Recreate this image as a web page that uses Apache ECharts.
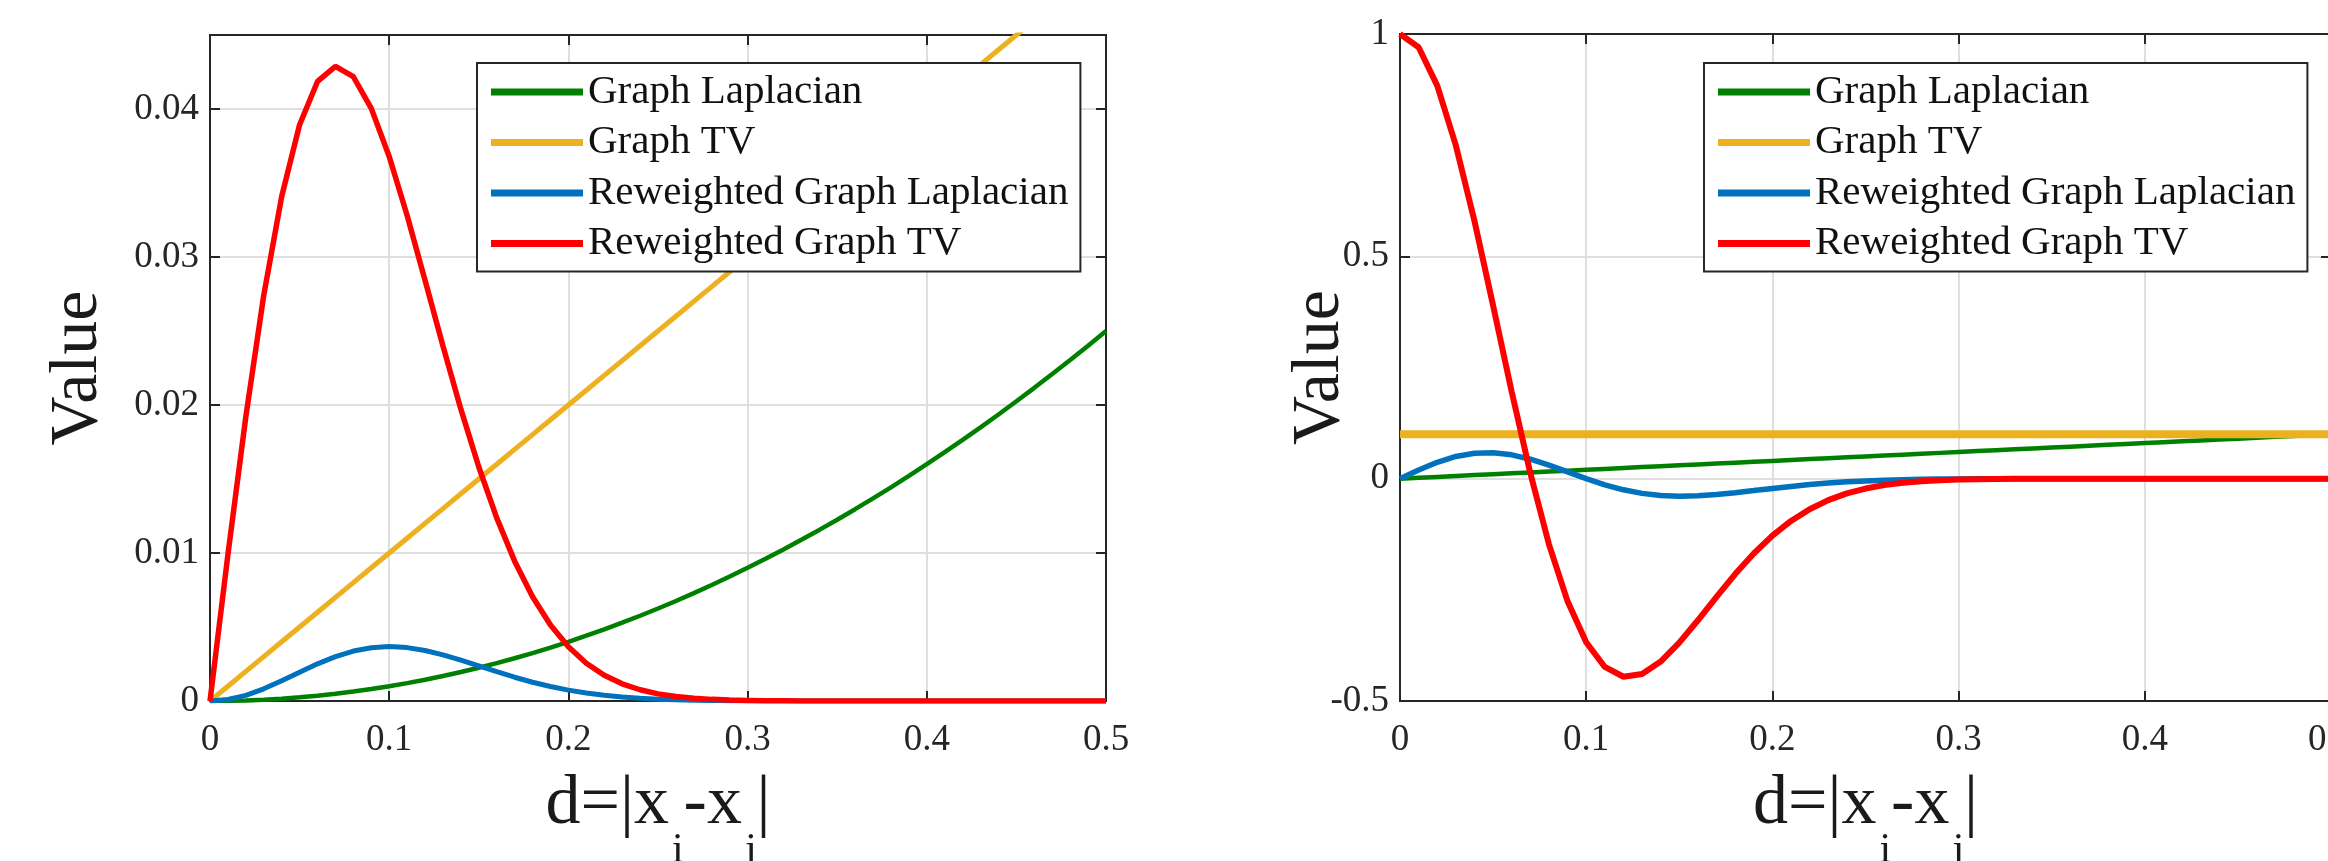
<!DOCTYPE html>
<html><head><meta charset="utf-8">
<script src="https://cdn.jsdelivr.net/npm/echarts@6/dist/echarts.min.js"></script>
<style>html,body{margin:0;padding:0;background:#fff}#c{width:2328px;height:861px}</style>
</head><body><div id="c"></div>
<script>
// distance d = |x_i - x_j|
const d = [0,0.01,0.02,0.03,0.04,0.05,0.06,0.07,0.08,0.09,0.1,0.11,0.12,0.13,0.14,0.15,0.16,0.17,0.18,0.19,0.2,0.21,0.22,0.23,0.24,0.25,0.26,0.27,0.28,0.29,0.3,0.31,0.32,0.33,0.34,0.35,0.36,0.37,0.38,0.39,0.4,0.41,0.42,0.43,0.44,0.45,0.46,0.47,0.48,0.49,0.5];

// left panel
const leftLap = [0,0.00001,0.00004,0.00009,0.00016,0.00025,0.00036,0.00049,0.00064,0.00081,0.001,0.00121,0.00144,0.00169,0.00196,0.00225,0.00256,0.00289,0.00324,0.00361,0.004,0.00441,0.00484,0.00529,0.00576,0.00625,0.00676,0.00729,0.00784,0.00841,0.009,0.00961,0.01024,0.01089,0.01156,0.01225,0.01296,0.01369,0.01444,0.01521,0.016,0.01681,0.01764,0.01849,0.01936,0.02025,0.02116,0.02209,0.02304,0.02401,0.025];
const leftTV = [0,0.001,0.002,0.003,0.004,0.005,0.006,0.007,0.008,0.009,0.01,0.011,0.012,0.013,0.014,0.015,0.016,0.017,0.018,0.019,0.02,0.021,0.022,0.023,0.024,0.025,0.026,0.027,0.028,0.029,0.03,0.031,0.032,0.033,0.034,0.035,0.036,0.037,0.038,0.039,0.04,0.041,0.042,0.043,0.044,0.045,0.046,0.047,0.048,0.049,0.05];
const leftRwLap = [0,0.000099,0.000384,0.000823,0.001363,0.001947,0.002512,0.003002,0.003375,0.003603,0.003679,0.003608,0.003412,0.003118,0.002761,0.002372,0.001979,0.001606,0.001269,0.000977,0.000733,0.000536,0.000383,0.000267,0.000181,0.000121,0.000078,0.00005,0.000031,0.000019,0.000011,0.000006,0.000004,0.000002,0,0,0,0,0,0,0,0,0,0,0,0,0,0,0,0,0];
const leftRwTV = [0,0.0099,0.01922,0.02742,0.03409,0.03894,0.04186,0.04288,0.04218,0.04004,0.03679,0.0328,0.02843,0.02399,0.01972,0.01581,0.01237,0.00945,0.00705,0.00514,0.00366,0.00255,0.00174,0.00116,0.00076,0.00048,0.0003,0.00018,0.00011,0.00006,0.00004,0.00002,0.00001,0,0,0,0,0,0,0,0,0,0,0,0,0,0,0,0,0,0];

// right panel
const rightLap = [0,0.002,0.004,0.006,0.008,0.01,0.012,0.014,0.016,0.018,0.02,0.022,0.024,0.026,0.028,0.03,0.032,0.034,0.036,0.038,0.04,0.042,0.044,0.046,0.048,0.05,0.052,0.054,0.056,0.058,0.06,0.062,0.064,0.066,0.068,0.07,0.072,0.074,0.076,0.078,0.08,0.082,0.084,0.086,0.088,0.09,0.092,0.094,0.096,0.098,0.1];
const rightTV = [0.1,0.1,0.1,0.1,0.1,0.1,0.1,0.1,0.1,0.1,0.1,0.1,0.1,0.1,0.1,0.1,0.1,0.1,0.1,0.1,0.1,0.1,0.1,0.1,0.1,0.1,0.1,0.1,0.1,0.1,0.1,0.1,0.1,0.1,0.1,0.1,0.1,0.1,0.1,0.1,0.1,0.1,0.1,0.1,0.1,0.1,0.1,0.1,0.1,0.1,0.1];
const rightRwLap = [0,0.0196,0.03689,0.0499,0.05726,0.05841,0.05358,0.04374,0.03037,0.01521,0,-0.01378,-0.02502,-0.0331,-0.03786,-0.03953,-0.03859,-0.03572,-0.03158,-0.02683,-0.02198,-0.01742,-0.01337,-0.00995,-0.0072,-0.00507,-0.00347,-0.00231,-0.00149,-0.00095,-0.00059,-0.00036,-0.00021,-0.00012,-0.00007,0,0,0,0,0,0,0,0,0,0,0,0,0,0,0,0];
const rightRwTV = [1,0.97025,0.88393,0.74942,0.57946,0.3894,0.19535,0.01225,-0.14764,-0.27581,-0.36788,-0.42344,-0.44543,-0.43916,-0.41131,-0.3689,-0.31848,-0.26567,-0.2146,-0.16825,-0.12824,-0.09509,-0.06866,-0.04828,-0.03314,-0.0222,-0.01452,-0.00923,-0.00573,-0.00348,-0.00209,-0.00122,-0.0007,-0.00039,-0.00021,-0.00011,-0.00005,0,0,0,0,0,0,0,0,0,0,0,0,0,0];

const seriesNames = ['Graph Laplacian','Graph TV','Reweighted Graph Laplacian','Reweighted Graph TV'];
const colors = ['#008000','#EDB120','#0072BD','#FF0000'];
const yNameText = 'Value';
const xNameText = '{m|d=|x}{s|i}{m|-x}{s|j}{m||}';

const FONT = "'Liberation Serif','Times New Roman',serif";
const INK = '#262626';

function pairs(arr){ return d.map((x,i)=>[x, arr[i]]); }

function xAxisMain(gi){
  return {
    gridIndex: gi, type: 'value', min: 0, max: 0.5, interval: 0.1, position: 'bottom',
    axisLine: {show: true, onZero: false, lineStyle: {color: INK, width: 2}},
    axisTick: {show: true, inside: true, length: 10, lineStyle: {color: INK, width: 2}},
    axisLabel: {show: true, margin: 21, color: INK, fontFamily: FONT, fontSize: 37},
    splitLine: {show: true, lineStyle: {color: '#dfdfdf', width: 2}},
    name: xNameText, nameLocation: 'middle', nameGap: 69, nameMoveOverlap: false,
    nameTextStyle: {
      color: INK, fontFamily: FONT,
      rich: {
        m: {fontSize: 70, lineHeight: 70, fontFamily: FONT, color: '#1a1a1a', verticalAlign: 'top'},
        s: {fontSize: 42, lineHeight: 42, fontFamily: FONT, color: '#1a1a1a', verticalAlign: 'top', padding: [60,0,0,3]}
      }
    }
  };
}
function xAxisTop(gi){
  return {
    gridIndex: gi, type: 'value', min: 0, max: 0.5, interval: 0.1, position: 'top',
    axisLine: {show: true, onZero: false, lineStyle: {color: INK, width: 2}},
    axisTick: {show: true, inside: true, length: 10, lineStyle: {color: INK, width: 2}},
    axisLabel: {show: false}, splitLine: {show: false}
  };
}
function yAxisMain(gi, min, max, interval, gap){
  return {
    gridIndex: gi, type: 'value', min: min, max: max, interval: interval, position: 'left',
    axisLine: {show: true, onZero: false, lineStyle: {color: INK, width: 2}},
    axisTick: {show: true, inside: true, length: 10, lineStyle: {color: INK, width: 2}},
    axisLabel: {show: true, margin: 11, color: INK, fontFamily: FONT, fontSize: 37, showMaxLabel: max !== 1 ? false : true},
    splitLine: {show: true, lineStyle: {color: '#dfdfdf', width: 2}},
    name: yNameText, nameLocation: 'middle', nameGap: gap, nameMoveOverlap: false,
    nameTextStyle: {color: '#1a1a1a', fontFamily: FONT, fontSize: 68}
  };
}
function yAxisRight(gi, min, max, interval){
  return {
    gridIndex: gi, type: 'value', min: min, max: max, interval: interval, position: 'right',
    axisLine: {show: true, onZero: false, lineStyle: {color: INK, width: 2}},
    axisTick: {show: true, inside: true, length: 10, lineStyle: {color: INK, width: 2}},
    axisLabel: {show: false}, splitLine: {show: false}
  };
}

const leftData = [leftLap, leftTV, leftRwLap, leftRwTV];
const rightData = [rightLap, rightTV, rightRwLap, rightRwTV];
const leftWidths = [4.5, 5, 5, 5.5];
const rightWidths = [4.5, 8, 5.5, 6];

const series = [];
leftData.forEach((arr, i) => series.push({
  name: seriesNames[i], type: 'line', xAxisIndex: 0, yAxisIndex: 0,
  data: pairs(arr), symbol: 'none', showSymbol: false, clip: true, z: 2 + i,
  lineStyle: {color: colors[i], width: leftWidths[i]}, itemStyle: {color: colors[i]}
}));
rightData.forEach((arr, i) => series.push({
  name: seriesNames[i], type: 'line', xAxisIndex: 2, yAxisIndex: 2,
  data: pairs(arr), symbol: 'none', showSymbol: false, clip: true, z: 2 + i,
  lineStyle: {color: colors[i], width: rightWidths[i]}, itemStyle: {color: colors[i]}
}));

function legend(left){
  return {
    show: true, orient: 'vertical', left: left, top: 63,
    data: seriesNames.map((n, i) => ({name: n, icon: 'rect', itemStyle: {color: colors[i], borderWidth: 0}})),
    itemWidth: 92, itemHeight: 7, itemGap: 0.5,
    padding: [4, 12, 3, 14],
    backgroundColor: '#ffffff', borderColor: INK, borderWidth: 2, borderRadius: 0,
    textStyle: {color: '#111', fontFamily: FONT, fontSize: 41, lineHeight: 50},
    selectedMode: false
  };
}

const option = {
  animation: false,
  backgroundColor: '#ffffff',
  grid: [
    {left: 210, right: 1222, top: 35, bottom: 160, show: true, borderColor: INK, borderWidth: 2, backgroundColor: '#ffffff', outerBoundsMode: 'none', containLabel: false},
    {left: 1400, right: -3, top: 34, bottom: 160, show: true, borderColor: INK, borderWidth: 2, backgroundColor: '#ffffff', outerBoundsMode: 'none', containLabel: false}
  ],
  xAxis: [xAxisMain(0), xAxisTop(0), xAxisMain(1), xAxisTop(1)],
  yAxis: [yAxisMain(0, 0, 0.045, 0.01, 98), yAxisRight(0, 0, 0.045, 0.01), yAxisMain(1, -0.5, 1, 0.5, 46), yAxisRight(1, -0.5, 1, 0.5)],
  legend: [legend(477), legend(1704)],
  series: series
};

const chart = echarts.init(document.getElementById('c'), null, {renderer: 'canvas'});
chart.setOption(option);
</script>
</body></html>
